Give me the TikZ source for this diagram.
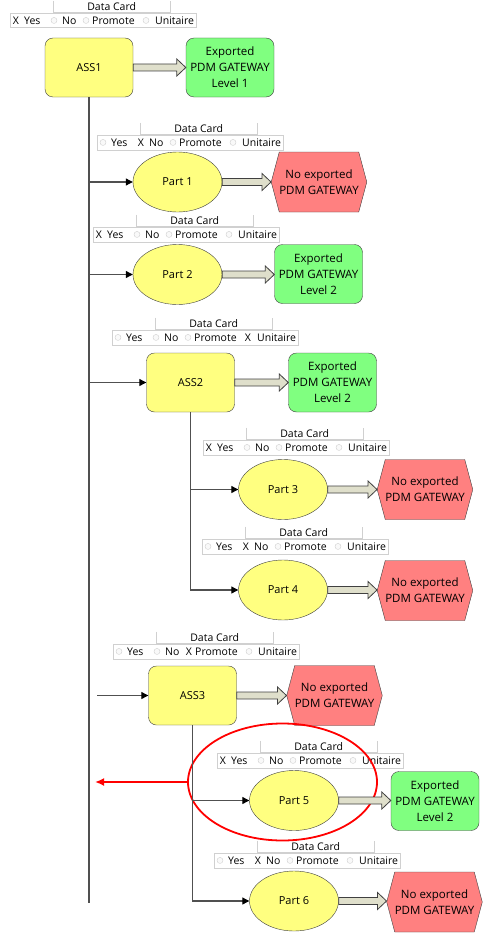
\documentclass[tikz,border=0pt]{standalone}
\usepackage{fontspec}
\setmainfont{Open Sans}
\usepackage{tikz}
\usetikzlibrary{calc,shapes.geometric,shapes.symbols,arrows.meta}

\definecolor{nodeyellow}{HTML}{FFFF80}
\definecolor{exportgreen}{HTML}{80FF80}
\definecolor{noexportred}{HTML}{FF8080}
\definecolor{fatfill}{HTML}{DFDFCB}
\definecolor{edgegray}{HTML}{404040}
\definecolor{trunkgray}{HTML}{505050}
\definecolor{cardgray}{HTML}{D0D0D0}

\newcommand{\datacard}[4]{%
    \node[cardbox, anchor=north west] (#1) at (#2,#3) {};
    \node[cardhead, anchor=south west] (#1-head) at ([xshift=43pt,yshift=1pt]#1.north west) {Data Card};
    \draw[cardline] (#1-head.north west) |- (#1-head.south east) -- (#1-head.north east);
    \foreach \opt/\mk/\tx [count=\i] in {Yes/6/14,No/44/52,Promote/76/82,Unitaire/136/145}{
        \ifnum\i=#4
            \node[cardtext] (#1-mark\i) at ([xshift=\mk pt]#1.west) {X};
        \else
            \node[radio] (#1-mark\i) at ([xshift=\mk pt]#1.west) {};
        \fi
        \node[cardtext, anchor=west] (#1-opt\i) at ([xshift=\tx pt]#1.west) {\opt};
    }
}

\begin{document}
\begin{tikzpicture}[
        x=1pt, y=-1pt,
        assy/.style={
            rectangle,
            rounded corners=8pt,
            draw=edgegray,
            fill=nodeyellow,
            minimum width=88pt,
            minimum height=59pt,
            font=\fontsize{11}{13}\selectfont
        },
        part/.style={
            ellipse,
            draw=edgegray,
            fill=nodeyellow,
            minimum width=89pt,
            minimum height=60pt,
            font=\fontsize{11}{13}\selectfont
        },
        exported/.style={
            rectangle,
            rounded corners=8pt,
            draw=edgegray,
            fill=exportgreen,
            align=center,
            minimum width=88pt,
            minimum height=59pt,
            font=\fontsize{11.5}{16}\selectfont
        },
        noexport/.style={
            signal,
            signal to=east and west,
            signal pointer angle=150,
            draw=edgegray,
            fill=noexportred,
            align=center,
            inner xsep=0pt,
            minimum width=88pt,
            minimum height=60pt,
            font=\fontsize{11.5}{16}\selectfont
        },
        cardbox/.style={
            rectangle,
            draw=cardgray,
            minimum width=186pt,
            minimum height=14.5pt,
            inner sep=0pt
        },
        cardhead/.style={
            rectangle,
            minimum width=117pt,
            minimum height=11pt,
            inner sep=0pt,
            font=\fontsize{10.5}{12}\selectfont
        },
        cardline/.style={draw=cardgray},
        cardtext/.style={inner sep=0pt, font=\fontsize{10.5}{12}\selectfont},
        radio/.style={circle, draw=cardgray, fill=gray!5, minimum size=6pt, inner sep=0pt},
        link/.style={draw=trunkgray, line width=1.1pt, -{Triangle[length=7pt,width=7pt,color=black]}},
        trunk/.style={draw=trunkgray, line width=1.3pt},
        fat/.style={
            fill=fatfill,
            draw=edgegray,
            line width=0.8pt,
            to path={let \p1=(\tikztostart), \p2=(\tikztotarget) in
                (\x1,{\y1+3.5pt}) -- ({\x2-9pt},{\y1+3.5pt}) -- ({\x2-9pt},{\y1+8.5pt}) -- (\x2,\y1)
                -- ({\x2-9pt},{\y1-8.5pt}) -- ({\x2-9pt},{\y1-3.5pt}) -- (\x1,{\y1-3.5pt}) -- cycle}
        },
        ring/.style={ellipse, draw=red, line width=1.8pt, minimum width=189pt, minimum height=117pt},
        backarrow/.style={draw=red, line width=1.8pt, -{Latex[length=9pt,width=8pt]}}
    ]
        \useasboundingbox (0,0) rectangle (483,934);

        \datacard{card1}{10}{13}{1}
        \datacard{card2}{97}{135}{2}
        \datacard{card3}{93}{227}{1}
        \datacard{card4}{112}{330}{4}
        \datacard{card5}{203}{440}{1}
        \datacard{card6}{202}{539}{2}
        \datacard{card7}{113}{644}{3}
        \datacard{card8}{217}{753}{1}
        \datacard{card9}{214}{853}{2}

        \node[assy] (ass1) at (89,67.5) {ASS1};
        \node[exported] (exp1) at (230,67.5) {Exported\\PDM GATEWAY\\Level 1};
        \node[part] (part1) at (177.5,182) {Part 1};
        \node[noexport] (noexp1) at (319,182) {No exported\\PDM GATEWAY};
        \node[part] (part2) at (177.5,274.5) {Part 2};
        \node[exported] (exp2) at (318.5,274) {Exported\\PDM GATEWAY\\Level 2};
        \node[assy] (ass2) at (190.5,382.5) {ASS2};
        \node[exported] (exp3) at (332.5,382.5) {Exported\\PDM GATEWAY\\Level 2};
        \node[part] (part3) at (283,489.5) {Part 3};
        \node[noexport] (noexp2) at (425,489.5) {No exported\\PDM GATEWAY};
        \node[part] (part4) at (283,590) {Part 4};
        \node[noexport] (noexp3) at (425,590.5) {No exported\\PDM GATEWAY};
        \node[assy] (ass3) at (192.5,695.5) {ASS3};
        \node[noexport] (noexp4) at (334.5,695.5) {No exported\\PDM GATEWAY};
        \node[part] (part5) at (294,800.5) {Part 5};
        \node[exported] (exp4) at (435,801) {Exported\\PDM GATEWAY\\Level 2};
        \node[part] (part6) at (294,901) {Part 6};
        \node[noexport] (noexp5) at (434.5,902) {No exported\\PDM GATEWAY};
        \node[ring] (focus) at (282.5,782) {};

        \coordinate (trunkend) at (89,903);
        \coordinate (ass3in) at (97,695.5);
        \coordinate (backto) at (95,782);

        \draw[trunk] (ass1.south) -- (trunkend);
        \draw[link] (ass1.south |- part1.west) -- (part1.west);
        \draw[link] (ass1.south |- part2.west) -- (part2.west);
        \draw[link] (ass1.south |- ass2.west) -- (ass2.west);
        \draw[link] (ass2.south |- part3.west) -- (part3.west);
        \draw[link] (ass2.south) |- (part4.west);
        \draw[link] (ass3in) -- (ass3.west);
        \draw[link] (ass3.south |- part5.west) -- (part5.west);
        \draw[link] (ass3.south) |- (part6.west);

        \draw[fat] (ass1.east) to (exp1.west);
        \draw[fat] (part1.east) to (noexp1.west);
        \draw[fat] (part2.east) to (exp2.west);
        \draw[fat] (ass2.east) to (exp3.west);
        \draw[fat] (part3.east) to (noexp2.west);
        \draw[fat] (part4.east) to (noexp3.west);
        \draw[fat] (ass3.east) to (noexp4.west);
        \draw[fat] (part5.east) to (exp4.west);
        \draw[fat] (part6.east) to (noexp5.west);

        \draw[backarrow] (focus.west) -- (backto);
    \end{tikzpicture}
\end{document}
